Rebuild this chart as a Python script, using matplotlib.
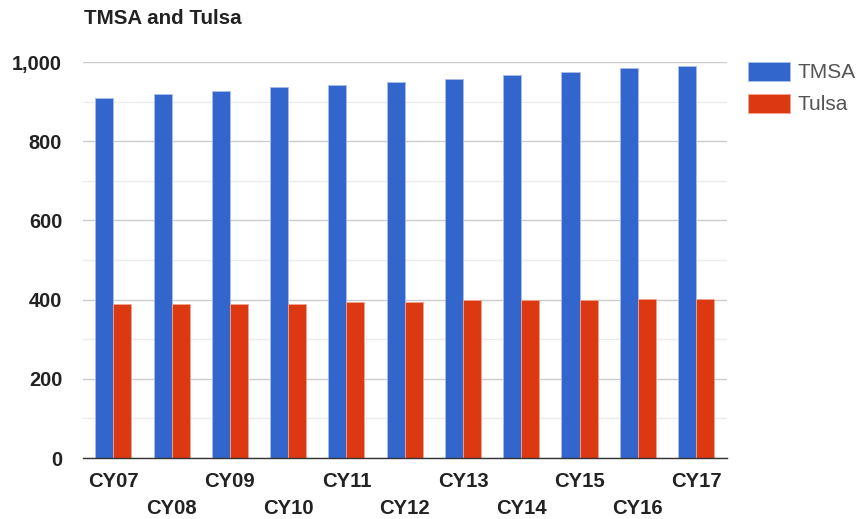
import matplotlib
matplotlib.use("Agg")
import matplotlib.pyplot as plt
import numpy as np
from matplotlib.ticker import FuncFormatter, MultipleLocator

plt.rcParams['font.family'] = ['Liberation Sans', 'DejaVu Sans']

categories = ["CY07", "CY08", "CY09", "CY10", "CY11", "CY12",
              "CY13", "CY14", "CY15", "CY16", "CY17"]
tmsa = [910, 919, 928, 936, 942, 950, 958, 967, 976, 984, 990]
tulsa = [390, 390, 390, 390, 394, 394, 399, 399, 399, 402, 402]
series_names = ["TMSA", "Tulsa"]

blue = "#3366cc"
red = "#dc3912"

fig = plt.figure(figsize=(8.57, 5.19), dpi=100)
ax = fig.add_axes([83 / 857, 1 - 458 / 519, 644 / 857, 396 / 519])

x = np.arange(len(categories))
w = 0.31
ax.bar(x - w / 2, tmsa, width=w, color=blue, edgecolor="#a9bde8",
       linewidth=0.6, label=series_names[0], zorder=3)
ax.bar(x + w / 2, tulsa, width=w, color=red, edgecolor="#f0a58f",
       linewidth=0.6, label=series_names[1], zorder=3)

ax.set_xlim(-0.52, len(categories) - 0.47)
ax.set_ylim(0, 1000)
ax.yaxis.set_major_locator(MultipleLocator(200))
ax.yaxis.set_minor_locator(MultipleLocator(100))
ax.yaxis.set_major_formatter(FuncFormatter(lambda v, p: f"{int(v):,}"))
ax.grid(axis="y", which="major", color="#cccccc", linewidth=1.0, zorder=0)
ax.grid(axis="y", which="minor", color="#ebebeb", linewidth=1.0, zorder=0)
ax.set_axisbelow(True)

for s in ["top", "right", "left"]:
    ax.spines[s].set_visible(False)
ax.spines["bottom"].set_color("#333333")
ax.spines["bottom"].set_linewidth(1.0)
ax.spines["bottom"].set_zorder(4)

ax.tick_params(axis="y", which="both", length=0, pad=15,
               labelsize=14.4, labelcolor="#222222")
for lab in ax.get_yticklabels():
    lab.set_fontweight("bold")

ax.set_xticks(x)
ax.set_xticklabels([])
ax.tick_params(axis="x", length=0)
for i, c in enumerate(categories):
    yoff = -0.06 if i % 2 == 0 else -0.127
    ax.text(i, yoff, c, transform=ax.get_xaxis_transform(), ha="center",
            va="center", fontsize=14.6, fontweight="bold", color="#222222")

fig.text(84 / 857, 1 - 18 / 519, "TMSA and Tulsa", fontsize=14.8,
         fontweight="bold", color="#222222", va="center", ha="left")

leg = ax.legend(loc="upper left", bbox_to_anchor=(1.033, 1.0),
                frameon=False, fontsize=15, handlelength=2.0,
                handleheight=1.0, handletextpad=0.38, labelspacing=0.55,
                borderaxespad=0, borderpad=0)
for t in leg.get_texts():
    t.set_color("#555555")

fig.savefig("out.png", dpi=100)
